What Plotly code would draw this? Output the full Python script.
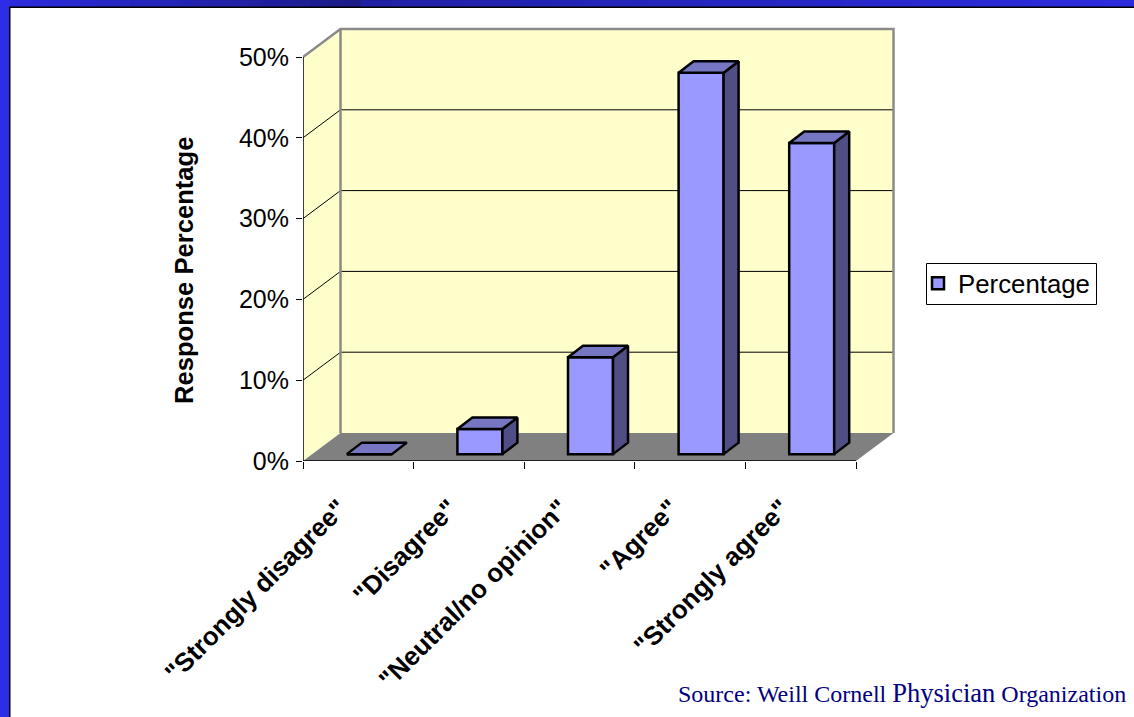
import plotly.graph_objects as go

# Survey results
categories = ['"Strongly disagree"', '"Disagree"', '"Neutral/no opinion"', '"Agree"', '"Strongly agree"']
percentages = [0, 3.1, 12, 47.2, 38.5]
y_ticks = [0, 10, 20, 30, 40, 50]
series_name = "Percentage"
axis_title = "Response Percentage"

W, H = 1134, 717
M_L, M_R, M_T, M_B = 303, 234, 20, 256
PX_X, PX_Y = 110.6, 8.08            # pixels per category / per percent
plot_w, plot_h = W - M_L - M_R, H - M_T - M_B
x_range = [0.5, 0.5 + plot_w / PX_X]
y_range = [0, plot_h / PX_Y]

# Oblique projection of the box and of the bars
BOX_DX, BOX_DY = 37.5 / PX_X, 28 / PX_Y
BAR_DX, BAR_DY = 15 / PX_X, 11.5 / PX_Y
BAR_W = 45 / PX_X
BAR_SHIFT, BAR_BASE = 11 / PX_X, 0.85
X0, X1, Y_TOP = 0.5, 5.5, 50

FRONT, TOP, SIDE = "#9999ff", "#7676c2", "#4f4f85"
WALL, FLOOR, EDGE = "#ffffcc", "#808080", "#8a8a8a"
FONT = "Liberation Sans"


def px_x(p):
    return (p - M_L) / plot_w


def px_y(p):
    return 1 - (p - M_T) / plot_h


def poly(points):
    return "M" + "L".join(f"{x},{y}" for x, y in points) + "Z"


def lerp_hex(a, b, t):
    return "#" + "".join(f"{round(a[i] + (b[i] - a[i]) * t):02x}" for i in range(3))


shapes = []


def frame_rect(x0, y0, x1, y1, color):
    shapes.append(dict(type="rect", xref="paper", yref="paper", layer="below",
                       x0=px_x(x0), x1=px_x(x1), y0=px_y(y0), y1=px_y(y1),
                       fillcolor=color, line_width=0))


# Slide frame: blue band on top and on the left with a dark rule inside it
BAND_STOPS = [(0, (44, 44, 224)), (360, (27, 27, 135)), (362, (32, 32, 165)),
              (1134, (44, 44, 222))]
for (a, ca), (b, cb) in zip(BAND_STOPS, BAND_STOPS[1:]):
    steps = max(1, (b - a) // 16)
    for i in range(steps):
        left = a + (b - a) * i // steps
        right = a + (b - a) * (i + 1) // steps + 1
        frame_rect(left, 0, right, 7, lerp_hex(ca, cb, (i + 0.5) / steps))
frame_rect(0, 0, 10, H, "#2d2de6")
frame_rect(9, 7, 10.5, H, "#000000")
frame_rect(9, 6.5, W, 8, "#000000")

# Legend box
shapes.append(dict(type="rect", xref="paper", yref="paper", layer="below",
                   x0=px_x(926.5), x1=px_x(1096.5), y0=px_y(263.5), y1=px_y(304.5),
                   fillcolor="#ffffff", line=dict(color="#000000", width=1)))

# Box walls, floor and gridlines, in data units
xb0, xb1 = X0 + BOX_DX, X1 + BOX_DX
shapes.append(dict(type="path", layer="below", xref="x", yref="y", line_width=0, fillcolor=WALL,
                   path=poly([(xb0, BOX_DY), (xb1, BOX_DY), (xb1, Y_TOP + BOX_DY), (xb0, Y_TOP + BOX_DY)])))
shapes.append(dict(type="path", layer="below", xref="x", yref="y", line_width=0, fillcolor=WALL,
                   path=poly([(X0, 0), (xb0, BOX_DY), (xb0, Y_TOP + BOX_DY), (X0, Y_TOP)])))
shapes.append(dict(type="path", layer="below", xref="x", yref="y", line_width=0, fillcolor=FLOOR,
                   path=poly([(X0, 0), (X1, 0), (xb1, BOX_DY), (xb0, BOX_DY)])))
for v in y_ticks[1:-1]:
    shapes.append(dict(type="path", layer="below", xref="x", yref="y",
                       line=dict(color="#000000", width=1),
                       path=f"M{X0},{v}L{xb0},{v + BOX_DY}L{xb1},{v + BOX_DY}"))
shapes.append(dict(type="path", layer="below", xref="x", yref="y",
                   line=dict(color=EDGE, width=2.5),
                   path=f"M{X0},{Y_TOP}L{xb0},{Y_TOP + BOX_DY}L{xb1},{Y_TOP + BOX_DY}L{xb1},{BOX_DY}"))
shapes.append(dict(type="line", layer="below", xref="x", yref="y",
                   x0=xb0, x1=xb0, y0=BOX_DY, y1=Y_TOP + BOX_DY,
                   line=dict(color=EDGE, width=2.5)))

fig = go.Figure()

centres = [i + 1 for i in range(len(categories))]
bar_x = [c + BAR_SHIFT for c in centres]

fig.add_trace(go.Bar(
    x=bar_x, y=percentages, base=[BAR_BASE] * len(percentages), width=BAR_W,
    name=series_name, showlegend=True, hoverinfo="skip",
    marker=dict(color=FRONT, line=dict(color="#000000", width=2.5)),
))


def face(xs, ys, color):
    fig.add_trace(go.Scatter(x=xs, y=ys, mode="lines", fill="toself", fillcolor=color,
                             line=dict(color="#000000", width=2.5), showlegend=False,
                             hoverinfo="skip"))


for cx, v in zip(bar_x, percentages):
    left, right = cx - BAR_W / 2, cx + BAR_W / 2
    top = BAR_BASE + v
    if v > 0:
        face([right, right + BAR_DX, right + BAR_DX, right, right],
             [BAR_BASE, BAR_BASE + BAR_DY, top + BAR_DY, top, BAR_BASE], SIDE)
    face([left, right, right + BAR_DX, left + BAR_DX, left],
         [top, top, top + BAR_DY, top + BAR_DY, top], TOP)

# Axis lines stop at the front edge of the box, not at the plot area's edge
for xs, ys in (([X0, X0], [0, Y_TOP]), ([X0, X1], [0, 0])):
    fig.add_trace(go.Scatter(x=xs, y=ys, mode="lines", cliponaxis=False, showlegend=False,
                             hoverinfo="skip", line=dict(color="#000000", width=1.5)))

source_text = ('Source: Weill Cornell <span style="font-size:26.5px">Physician</span> Organization')

fig.update_layout(
    width=W, height=H, autosize=False,
    margin=dict(l=M_L, r=M_R, t=M_T, b=M_B, pad=0),
    paper_bgcolor="#ffffff", plot_bgcolor="rgba(0,0,0,0)",
    font=dict(family=FONT, color="#000000"),
    shapes=shapes, barmode="overlay",
    xaxis=dict(
        range=x_range, showgrid=False, zeroline=False, showline=False, ticks="",
        tickmode="array", tickvals=centres, ticktext=categories, tickangle=-45,
        tickfont=dict(size=26, family=FONT, weight="bold"),
        ticklabelshift=-19, ticklabelstandoff=26,
        minor=dict(tickmode="array", tickvals=[0.5 + i for i in range(6)],
                   ticks="outside", ticklen=7, tickwidth=1, tickcolor="#000000",
                   showgrid=False),
    ),
    yaxis=dict(
        range=y_range, showgrid=False, zeroline=False, showline=False,
        tickmode="array", tickvals=y_ticks, ticktext=[f"{v}%" for v in y_ticks],
        ticks="outside", ticklen=6, tickwidth=1, tickcolor="#000000",
        tickfont=dict(size=25, family=FONT), ticklabelstandoff=2,
    ),
    legend=dict(
        x=px_x(918), y=px_y(260), xanchor="left", yanchor="top",
        bgcolor="rgba(0,0,0,0)", borderwidth=0,
        font=dict(size=25.8, family=FONT), itemwidth=30,
    ),
    annotations=[
        dict(text=axis_title, textangle=-90, xref="paper", yref="paper",
             x=px_x(184), y=px_y(271), showarrow=False, xanchor="center", yanchor="middle",
             font=dict(size=25.6, family=FONT, weight="bold")),
        dict(text=source_text, xref="paper", yref="paper",
             x=px_x(1128), y=px_y(693), showarrow=False, xanchor="right", yanchor="middle",
             font=dict(size=24, family="Liberation Serif", color="#000080")),
    ],
)

fig.write_html("out.html", config=dict(displayModeBar=False))
